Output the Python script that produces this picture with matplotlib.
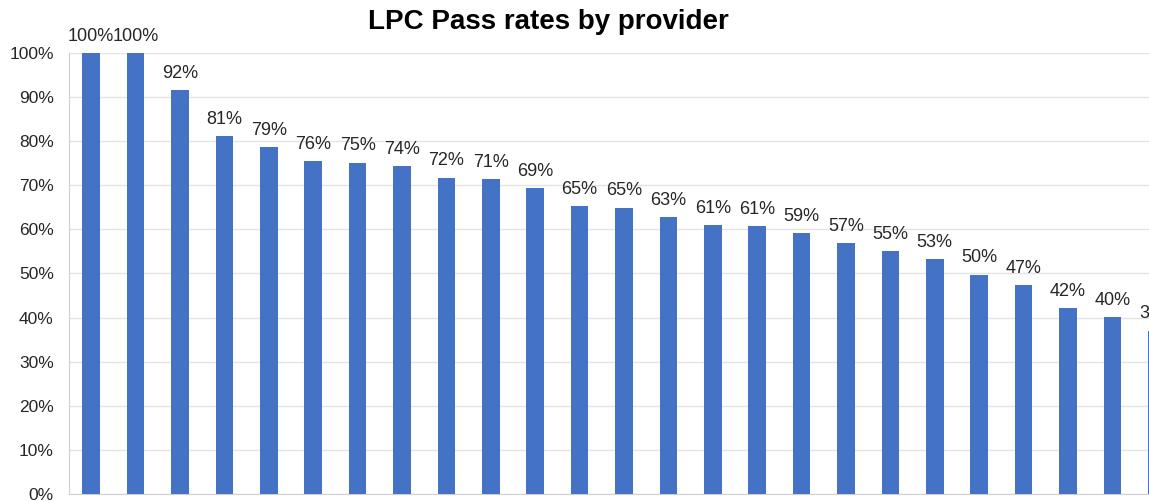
import matplotlib
matplotlib.use("Agg")
import matplotlib.pyplot as plt
from matplotlib.ticker import PercentFormatter

plt.rcParams['font.family'] = ['Liberation Sans', 'DejaVu Sans']

# Pass rate per provider (bar heights) and their printed labels
pass_rates = [100.0, 100.0, 91.6, 81.2, 78.7, 75.5, 75.1, 74.4, 71.7, 71.4, 69.4,
              65.3, 64.9, 62.8, 61.0, 60.8, 59.2, 56.9, 55.1, 53.3, 49.7, 47.4,
              42.2, 40.1, 37.0]
labels = ["100%", "100%", "92%", "81%", "79%", "76%", "75%", "74%", "72%", "71%",
          "69%", "65%", "65%", "63%", "61%", "61%", "59%", "57%", "55%", "53%",
          "50%", "47%", "42%", "40%", "37%"]
y_ticks = [0, 10, 20, 30, 40, 50, 60, 70, 80, 90, 100]

bar_color = "#4472C4"

fig = plt.figure(figsize=(11.49, 5.01), dpi=100)
# chart is cropped on the right in the source, so the axes runs to the figure edge
ax = fig.add_axes([69 / 1149, 1 - 494 / 501, 1 - 69 / 1149, (494 - 53) / 501])

xs = list(range(len(pass_rates)))
ax.bar(xs, pass_rates, width=0.4, color=bar_color, zorder=3)
for x, v, lab in zip(xs, pass_rates, labels):
    ax.annotate(lab, (x, v), xytext=(0, 6), textcoords="offset points",
                ha="center", va="bottom", fontsize=13, color="#262626",
                annotation_clip=False)

ax.set_xlim(-0.5, (1149 - 69) / 44.4 - 0.5)
ax.set_ylim(0, 100)
ax.set_yticks(y_ticks)
ax.yaxis.set_major_formatter(PercentFormatter(decimals=0))
ax.set_xticks([])
ax.tick_params(axis="y", length=0, pad=11, labelsize=12.5, labelcolor="#262626")
ax.grid(axis="y", color="#e4e4e4", linewidth=1, zorder=0)

for side in ("top", "right"):
    ax.spines[side].set_visible(False)
ax.spines["left"].set_color("#d0d0d0")
ax.spines["bottom"].set_color("#d0d0d0")

fig.text(548 / 1149, 1 - 22 / 501, "LPC Pass rates by provider", ha="center",
         va="center", fontsize=20, fontweight="bold", color="black")

fig.savefig("out.png", dpi=100)
